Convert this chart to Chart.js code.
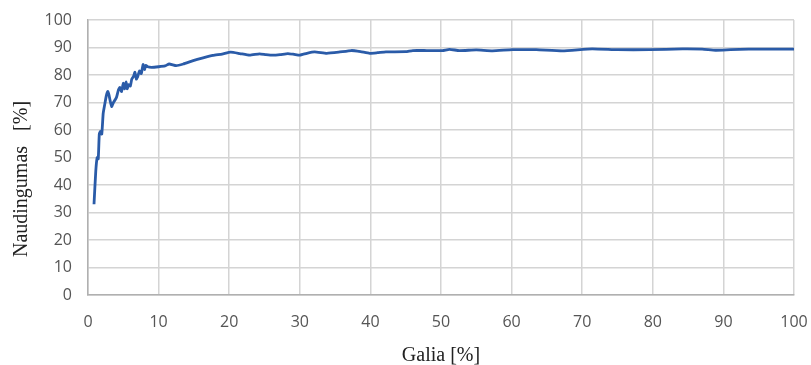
<!DOCTYPE html>
<html>
<head>
<meta charset="utf-8">
<script src="https://cdn.jsdelivr.net/npm/chart.js@4/dist/chart.umd.min.js"></script>
<style>
  html, body { margin: 0; padding: 0; background: #fff; }
  #wrap { width: 811px; height: 365px; }
</style>
</head>
<body>
<div id="wrap"><canvas id="c"></canvas></div>
<script>
// Galia [%] (x) ir naudingumas [%] (y)
const galia = [0.85, 1.1, 1.3, 1.45, 1.6, 1.75, 1.95, 2.15, 2.35, 2.6, 2.8, 2.95, 3.15, 3.35, 3.6, 3.85,
  4.05, 4.3, 4.5, 4.75, 5.0, 5.2, 5.4, 5.55, 5.75, 6.0, 6.2, 6.45, 6.65, 6.85, 7.05, 7.3, 7.55, 7.8,
  8.0, 8.2, 8.45, 9.0, 10.0, 10.9, 11.5, 12.5, 13.5, 14.9, 16.3, 17.7, 19.0, 20.2, 21.5, 22.9, 24.3,
  25.2, 26.2, 27.2, 28.3, 29.2, 30.0, 31.0, 32.1, 33.8, 35.5, 37.3, 38.6, 39.9, 41.0, 42.2, 45.0,
  46.0, 48.0, 50.2, 51.2, 52.6, 55.0, 57.3, 60.1, 63.5, 67.2, 71.4, 75.0, 79.5, 84.2, 87.0, 88.9,
  91.0, 93.6, 96.5, 100];
const naudingumas = [33, 45, 50, 49.5, 58.5, 59.5, 58.5, 66, 69, 72.5, 74, 73, 70.5, 68.5, 70, 71,
  72, 74.5, 75.5, 74, 77, 75, 77.5, 75, 76.5, 76, 78.5, 79.5, 81, 78.5, 79.5, 81.5, 80.5, 83.8,
  82, 83.5, 83, 82.8, 83, 83.3, 84, 83.4, 84, 85.2, 86.2, 87.1, 87.6, 88.3, 87.8, 87.2, 87.7,
  87.4, 87.2, 87.4, 87.8, 87.5, 87.2, 87.9, 88.4, 87.9, 88.3, 88.9, 88.5, 87.9, 88.1, 88.4, 88.5,
  88.9, 88.9, 88.9, 89.3, 88.9, 89.1, 88.8, 89.2, 89.2, 88.8, 89.5, 89.2, 89.2, 89.5, 89.4, 89.0,
  89.2, 89.4, 89.4, 89.4];
const xTicks = [0, 10, 20, 30, 40, 50, 60, 70, 80, 90, 100];
const yTicks = [0, 10, 20, 30, 40, 50, 60, 70, 80, 90, 100];

const tickFont = { family: 'Open Sans', size: 16 };
const gridColor = '#d4d4d4';

// axis titles drawn by hand so they sit where the layout needs them
const axisTitles = {
  id: 'axisTitles',
  afterDraw(chart) {
    const { ctx, chartArea } = chart;
    ctx.save();
    ctx.fillStyle = '#222';
    ctx.font = '20px "Liberation Serif"';
    ctx.textAlign = 'center';
    ctx.textBaseline = 'alphabetic';
    ctx.fillText('Galia [%]', (chartArea.left + chartArea.right) / 2, 361);
    ctx.translate(27, 179);
    ctx.rotate(-Math.PI / 2);
    ctx.fillText('Naudingumas   [%]', 0, 0);
    ctx.restore();
  }
};

new Chart(document.getElementById('c'), {
  type: 'line',
  data: {
    datasets: [{
      data: galia.map((x, i) => ({ x, y: naudingumas[i] })),
      borderColor: '#2a5ba8',
      borderWidth: 2.8,
      pointRadius: 0,
      tension: 0.15,
      fill: false
    }]
  },
  options: {
    responsive: true,
    maintainAspectRatio: false,
    animation: false,
    layout: { padding: { top: 20, right: 17, left: 0, bottom: 0 } },
    plugins: { legend: { display: false }, tooltip: { enabled: false } },
    scales: {
      x: {
        type: 'linear',
        min: 0, max: 100,
        afterBuildTicks: (s) => { s.ticks = xTicks.map(v => ({ value: v })); },
        afterFit: (s) => { s.height = 70; s.paddingLeft = 0; s.paddingRight = 0; },
        grid: { color: gridColor, lineWidth: 1.5, drawTicks: false },
        border: { color: '#b0b0b0', width: 1.5 },
        ticks: { font: tickFont, color: '#555', padding: 18, maxRotation: 0 }
      },
      y: {
        min: 0, max: 100,
        afterBuildTicks: (s) => { s.ticks = yTicks.map(v => ({ value: v })); },
        afterFit: (s) => { s.width = 88; s.paddingTop = 0; s.paddingBottom = 0; },
        grid: { color: gridColor, lineWidth: 1.5, drawTicks: false },
        border: { color: '#b0b0b0', width: 1.5 },
        ticks: { font: tickFont, color: '#555', padding: 16 }
      }
    }
  },
  plugins: [axisTitles]
});
</script>
</body>
</html>
